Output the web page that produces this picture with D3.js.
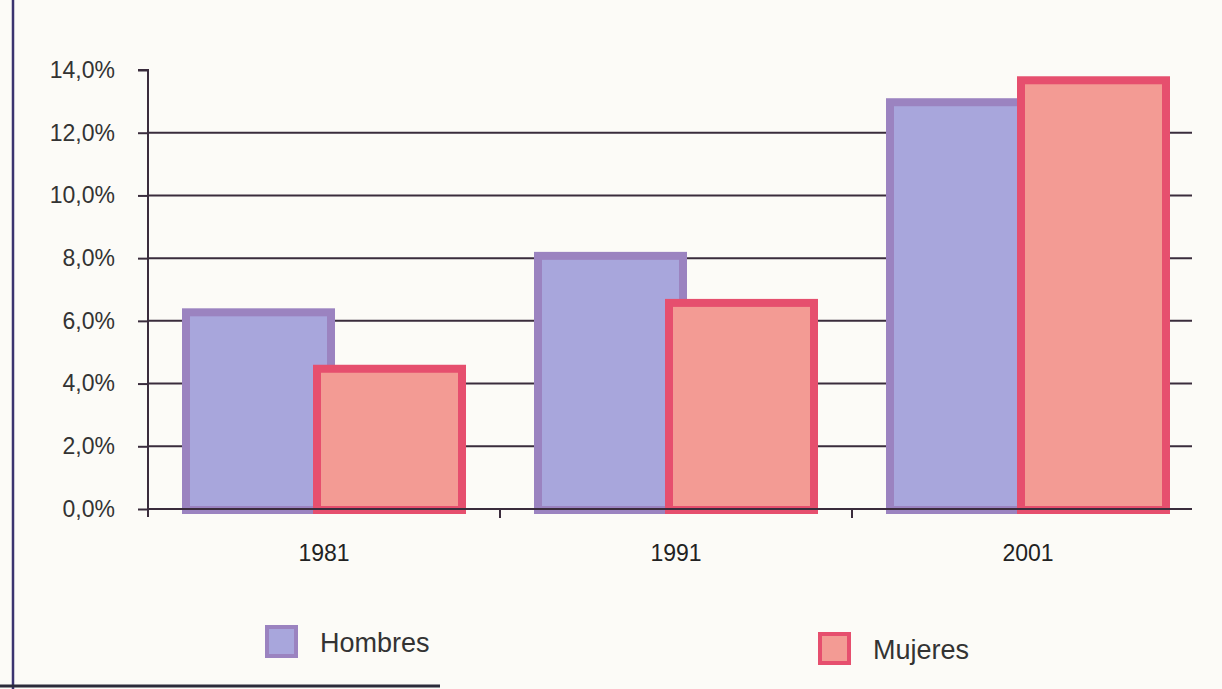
<!DOCTYPE html>
<html><head><meta charset="utf-8">
<script src="https://cdn.jsdelivr.net/npm/d3@7"></script>
<style>
html,body{margin:0;padding:0;background:#fcfbf7;}
svg{display:block;font-family:"Liberation Sans",Arial,sans-serif;}
</style></head>
<body>
<svg id="c" width="1222" height="689"></svg>
<script>
const categories = ["1981", "1991", "2001"];
const seriesNames = ["Hombres", "Mujeres"];
const hombres = [6.4, 8.2, 13.1];
const mujeres = [4.6, 6.7, 13.8];
const yTicks = [0, 2, 4, 6, 8, 10, 12, 14];

const fills = {Hombres: "#a8a6dc", Mujeres: "#f39b94"};
const borders = {Hombres: "#9b83c0", Mujeres: "#e64f6e"};
const values = {Hombres: hombres, Mujeres: mujeres};

(function () {
const svg = d3.select("#c");
const mLeft = 148, mRight = 1204, mTop = 70, mBottom = 509;

const x0 = d3.scaleBand().domain(categories).range([mLeft, mRight]);
const xs = d3.scalePoint().domain(seriesNames).range([-65.5, 65.5]);
const barW = 153, bw = 8;
const y = d3.scaleLinear().domain([0, 14]).range([mBottom, mTop]);
const fmt = d => d3.format(".1f")(d).replace(".", ",") + "%";

// frame
svg.append("line").attr("x1", 13).attr("x2", 13).attr("y1", 0).attr("y2", 689)
  .attr("stroke", "#3b3470").attr("stroke-width", 2.5);
svg.append("line").attr("x1", 0).attr("x2", 440).attr("y1", 686).attr("y2", 686)
  .attr("stroke", "#2b2b3a").attr("stroke-width", 3);

// gridlines
svg.append("g").selectAll("line").data(yTicks.filter(t => t > 0 && t < 14)).join("line")
  .attr("x1", mLeft).attr("x2", 1192)
  .attr("y1", d => y(d)).attr("y2", d => y(d))
  .attr("stroke", "#3a2c3c").attr("stroke-width", 2);

// y axis
const ya = svg.append("g").attr("transform", `translate(${mLeft},0)`)
  .call(d3.axisLeft(y).tickValues(yTicks).tickFormat(fmt).tickSize(10).tickPadding(23));
ya.attr("font-size", null).attr("font-family", null);
ya.select(".domain").attr("stroke", "#3a2c3c").attr("stroke-width", 2)
  .attr("d", `M-10,${mTop}H0V${mBottom + 8}`);
ya.selectAll(".tick line").attr("stroke", "#3a2c3c").attr("stroke-width", 2);
ya.selectAll(".tick text").attr("font-size", 23).attr("fill", "#333");

// bars
const gBars = svg.append("g");
seriesNames.forEach(s => {
  categories.forEach((c, i) => {
    const cx = x0(c) + x0.bandwidth() / 2 + xs(s);
    const v = values[s][i];
    gBars.append("rect").attr("x", cx - barW / 2).attr("y", y(v))
      .attr("width", barW).attr("height", y(0) - y(v) + 5).attr("fill", borders[s]);
    gBars.append("rect").attr("x", cx - barW / 2 + bw).attr("y", y(v) + bw)
      .attr("width", barW - 2 * bw).attr("height", y(0) - y(v) + 5 - 2 * bw).attr("fill", fills[s]);
  });
});

// x axis
const xa = svg.append("g").attr("transform", `translate(0,${mBottom})`)
  .call(d3.axisBottom(x0).tickSize(0).tickPadding(36));
xa.attr("font-size", null).attr("font-family", null);
xa.select(".domain").attr("stroke", "#3a2c3c").attr("stroke-width", 2)
  .attr("d", `M${mLeft},0H1192`);
xa.selectAll(".tick text").attr("font-size", 23).attr("fill", "#222");
svg.append("g").selectAll("line").data(categories.slice(1)).join("line")
  .attr("x1", d => x0(d)).attr("x2", d => x0(d))
  .attr("y1", mBottom).attr("y2", mBottom + 9)
  .attr("stroke", "#3a2c3c").attr("stroke-width", 2);

// legend
const legend = [
  {name: "Hombres", x: 265, y: 625},
  {name: "Mujeres", x: 818, y: 632}
];
legend.forEach(l => {
  svg.append("rect").attr("x", l.x).attr("y", l.y).attr("width", 33).attr("height", 33).attr("fill", borders[l.name]);
  svg.append("rect").attr("x", l.x + 4).attr("y", l.y + 4).attr("width", 25).attr("height", 25).attr("fill", fills[l.name]);
  svg.append("text").attr("x", l.x + 55).attr("y", l.y + 27).attr("font-size", 27)
    .attr("fill", "#333").text(l.name);
});
})();
</script>
</body></html>
